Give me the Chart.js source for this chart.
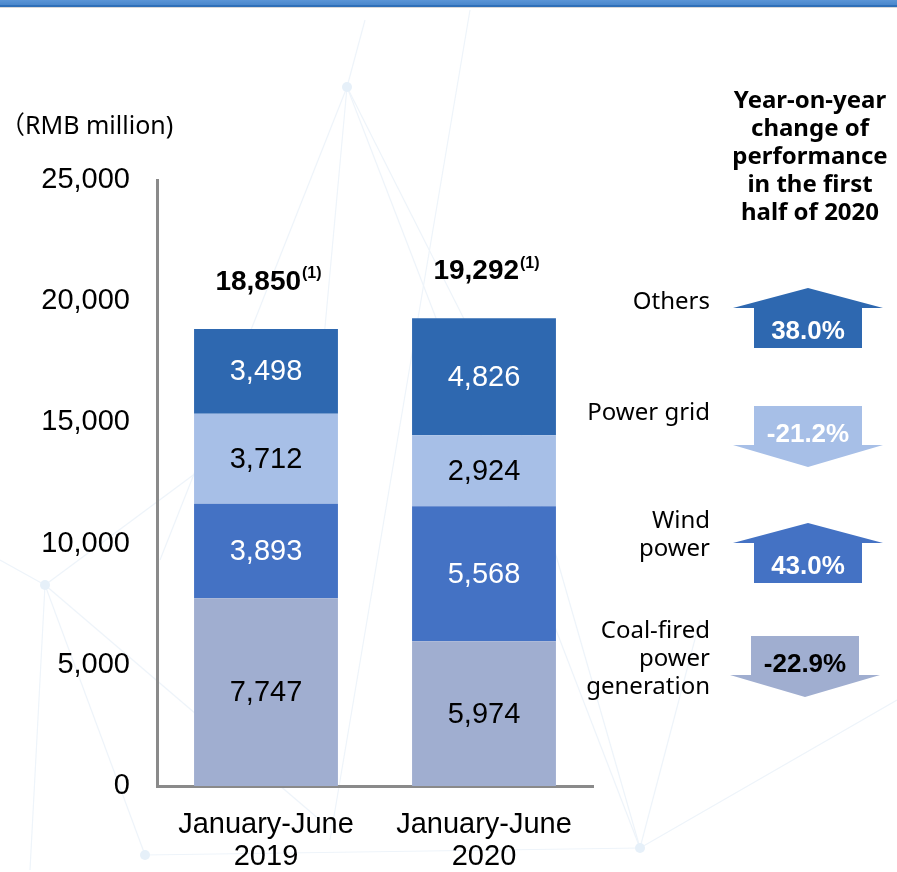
<!DOCTYPE html>
<html>
<head>
<meta charset="utf-8">
<script src="https://cdn.jsdelivr.net/npm/chart.js@4.4.1/dist/chart.umd.min.js"></script>
<style>
  html, body { margin: 0; padding: 0; background: #fff; }
  #wrap { position: relative; width: 897px; height: 872px; }
</style>
</head>
<body>
<div id="wrap"><canvas id="chart" width="897" height="872"></canvas></div>
<script>
// chart data
const periods = [['January-June', '2019'], ['January-June', '2020']];
const coalFired = [7747, 5974];
const windPower = [3893, 5568];
const powerGrid = [3712, 2924];
const others = [3498, 4826];
const totals = ['18,850', '19,292'];

const segmentNames = ['Coal-fired power generation', 'Wind power', 'Power grid', 'Others'];
const segmentColors = ['#A0AED0', '#4472C4', '#A7BFE7', '#2E68B0'];
const labelColors = ['#000', '#fff', '#000', '#fff'];

// year-on-year change, top row first
const yoyNames = [['Others'], ['Power grid'], ['Wind', 'power'], ['Coal-fired', 'power', 'generation']];
const yoyChange = ['38.0%', '-21.2%', '43.0%', '-22.9%'];
const yoyUp = [true, false, true, false];
const yoyColors = ['#2E68B0', '#A7BFE7', '#4472C4', '#A0AED0'];
const yoyTextColors = ['#fff', '#fff', '#fff', '#000'];
const yoyTitle = ['Year-on-year', 'change of', 'performance', 'in the first', 'half of 2020'];

const yTicks = [0, 5000, 10000, 15000, 20000, 25000];

const sansCJK = '"Noto Sans", "Noto Sans CJK SC", sans-serif';
const arial = '"Liberation Sans", Arial, sans-serif';

// faint network lines behind everything
const backdrop = {
  id: 'backdrop',
  beforeDraw(chart) {
    const c = chart.ctx;
    c.save();
    c.fillStyle = '#fff';
    c.fillRect(0, 0, chart.width, chart.height);
    c.strokeStyle = '#eef4fa';
    c.lineWidth = 1.2;
    const lines = [
      [347, 87, 160, 560], [347, 87, 300, 600], [347, 87, 520, 430], [347, 87, 640, 848],
      [347, 87, 365, 20], [470, 10, 330, 840], [45, 585, 0, 560], [45, 585, 145, 855],
      [45, 585, 200, 470], [45, 585, 320, 820], [145, 855, 640, 848], [640, 848, 897, 700],
      [520, 430, 640, 848], [30, 870, 45, 585], [640, 848, 700, 620]
    ];
    lines.forEach(l => { c.beginPath(); c.moveTo(l[0], l[1]); c.lineTo(l[2], l[3]); c.stroke(); });
    c.fillStyle = '#e6f0f9';
    [[347, 87], [45, 585], [145, 855], [640, 848]].forEach(p => {
      c.beginPath(); c.arc(p[0], p[1], 5, 0, Math.PI * 2); c.fill();
    });
    // blue strip across the top
    const g = c.createLinearGradient(0, 0, 0, 8);
    g.addColorStop(0, '#5b95d6');
    g.addColorStop(1, '#3f7fc6');
    c.fillStyle = g;
    c.fillRect(0, 0, chart.width, 7);
    c.fillStyle = '#2f6fb8';
    c.fillRect(0, 5, chart.width, 2);
    c.fillStyle = '#d8d8d8';
    c.fillRect(0, 7, chart.width, 1);
    c.restore();
  }
};

const annotations = {
  id: 'annotations',
  afterDatasetsDraw(chart) {
    const c = chart.ctx;
    c.save();
    c.textAlign = 'center';
    c.textBaseline = 'middle';

    // values inside each segment
    chart.data.datasets.forEach((ds, di) => {
      chart.getDatasetMeta(di).data.forEach((bar, i) => {
        const mid = (bar.y + bar.base) / 2;
        c.font = '29px ' + arial;
        c.fillStyle = labelColors[di];
        c.fillText(ds.data[i].toLocaleString('en-US'), bar.x, mid + 1);
      });
    });

    // totals above the bars
    const topMeta = chart.getDatasetMeta(chart.data.datasets.length - 1);
    topMeta.data.forEach((bar, i) => {
      c.font = 'bold 28px ' + arial;
      const w = c.measureText(totals[i]).width;
      c.font = 'bold 16px ' + arial;
      const sw = c.measureText('(1)').width;
      const x0 = bar.x - (w + sw) / 2 + 2;
      const y = bar.y - 47;
      c.textAlign = 'left';
      c.fillStyle = '#000';
      c.font = 'bold 28px ' + arial;
      c.fillText(totals[i], x0, y);
      c.font = 'bold 16px ' + arial;
      c.fillText('(1)', x0 + w + 1, y - 8);
      c.textAlign = 'center';
    });

    // unit label
    c.textAlign = 'left';
    c.font = '25px ' + sansCJK;
    c.fillStyle = '#000';
    c.fillText('（RMB million)', 0, 127);

    // right-hand title
    c.textAlign = 'center';
    c.font = 'bold 24px ' + sansCJK;
    yoyTitle.forEach((t, i) => c.fillText(t, 810, 101 + i * 28));

    // arrows
    const rowTops = [288, 406, 523, 636];
    const nameTops = [302, 413, 521, 631];
    yoyChange.forEach((val, i) => {
      const top = rowTops[i];
      const cx = i === 3 ? 805 : 808;
      const half = 75, shaft = 54;
      c.fillStyle = yoyColors[i];
      c.beginPath();
      let textY;
      if (yoyUp[i]) {
        c.moveTo(cx, top);
        c.lineTo(cx + half, top + 20);
        c.lineTo(cx + shaft, top + 20);
        c.lineTo(cx + shaft, top + 60);
        c.lineTo(cx - shaft, top + 60);
        c.lineTo(cx - shaft, top + 20);
        c.lineTo(cx - half, top + 20);
        textY = top + 44;
      } else {
        c.moveTo(cx - shaft, top);
        c.lineTo(cx + shaft, top);
        c.lineTo(cx + shaft, top + 39);
        c.lineTo(cx + half, top + 39);
        c.lineTo(cx, top + 61);
        c.lineTo(cx - half, top + 39);
        c.lineTo(cx - shaft, top + 39);
        textY = top + 29;
      }
      c.closePath();
      c.fill();
      c.fillStyle = yoyTextColors[i];
      c.font = 'bold 26px ' + arial;
      c.textAlign = 'center';
      c.fillText(val, cx, textY);

      // segment name, right aligned
      c.fillStyle = '#000';
      c.font = '24px ' + sansCJK;
      c.textAlign = 'right';
      yoyNames[i].forEach((n, k) => c.fillText(n, 710, nameTops[i] + k * 28));
    });
    c.restore();
  }
};

new Chart(document.getElementById('chart'), {
  type: 'bar',
  data: {
    labels: periods,
    datasets: [
      { label: segmentNames[0], data: coalFired, backgroundColor: segmentColors[0] },
      { label: segmentNames[1], data: windPower, backgroundColor: segmentColors[1] },
      { label: segmentNames[2], data: powerGrid, backgroundColor: segmentColors[2] },
      { label: segmentNames[3], data: others, backgroundColor: segmentColors[3] }
    ]
  },
  options: {
    responsive: false,
    animation: false,
    layout: { padding: { left: 10, right: 304, top: 180, bottom: 0 } },
    datasets: { bar: { categoryPercentage: 1, barPercentage: 0.66, borderWidth: 0 } },
    plugins: { legend: { display: false }, tooltip: { enabled: false } },
    scales: {
      x: {
        stacked: true,
        grid: { display: false, drawTicks: false },
        border: { color: '#8a8a8a', width: 3 },
        ticks: { color: '#000', font: { family: arial, size: 29, lineHeight: 1.1 }, padding: 23, maxRotation: 0 },
        afterFit(scale) { scale.height = 86; }
      },
      y: {
        stacked: true,
        min: 0,
        max: 25000,
        afterBuildTicks(scale) { scale.ticks = yTicks.map(v => ({ value: v })); },
        grid: { display: false, drawTicks: false },
        border: { color: '#8a8a8a', width: 3 },
        ticks: { color: '#000', font: { family: arial, size: 29 }, padding: 27,
          callback: v => v.toLocaleString('en-US') },
        afterFit(scale) { scale.width = 147; }
      }
    }
  },
  plugins: [backdrop, annotations]
});
</script>
</body>
</html>
